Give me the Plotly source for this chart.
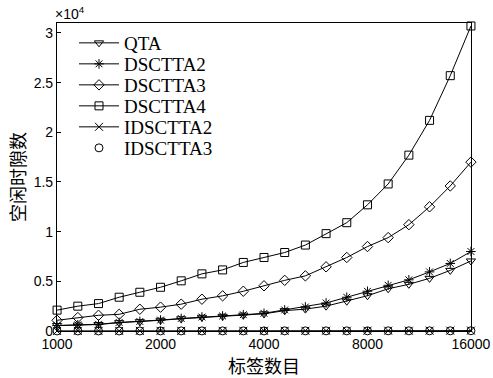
import plotly.graph_objects as go

tags = [1000, 1149, 1320, 1516, 1741, 2000, 2297, 2639, 3031, 3482, 4000,
        4595, 5278, 6063, 6964, 8000, 9190, 10556, 12126, 13929, 16000]

qta = [550, 600, 650, 840, 940, 1080, 1230, 1380, 1480, 1600, 1730,
       2050, 2200, 2500, 3000, 3550, 4250, 4700, 5300, 6100, 7050]
dsctta2 = [550, 620, 680, 860, 960, 1100, 1260, 1410, 1510, 1640, 1780,
           2120, 2420, 2820, 3400, 4000, 4600, 5150, 5950, 6800, 8000]
dsctta3 = [1080, 1350, 1580, 1680, 2190, 2400, 2700, 3200, 3540, 4000, 4550,
           5100, 5550, 6460, 7400, 8500, 9400, 10700, 12500, 14600, 17000]
dsctta4 = [2100, 2500, 2760, 3400, 3900, 4400, 5050, 5750, 6150, 6900, 7400,
           7900, 8650, 9800, 10900, 12700, 14800, 17700, 21200, 25700, 30700]
idsctta2 = [10, 10, 10, 10, 15, 15, 15, 15, 20, 20, 20,
            20, 25, 25, 25, 30, 30, 30, 35, 35, 40]
idsctta3 = [5, 5, 5, 5, 5, 10, 10, 10, 10, 10, 10,
            15, 15, 15, 15, 15, 20, 20, 20, 20, 25]

y_tickvals = [0, 5000, 10000, 15000, 20000, 25000, 30000]
y_ticktext = ["0", "0.5", "1", "1.5", "2", "2.5", "3"]
x_tickvals = [1000, 2000, 4000, 8000, 16000]
x_ticktext = ["1000", "2000", "4000", "8000", "16000"]

series = [
    ("QTA", qta, "triangle-down-open", "lines+markers"),
    ("DSCTTA2", dsctta2, "asterisk-open", "lines+markers"),
    ("DSCTTA3", dsctta3, "diamond-open", "lines+markers"),
    ("DSCTTA4", dsctta4, "square-open", "lines+markers"),
    ("IDSCTTA2", idsctta2, "x-thin-open", "lines+markers"),
    ("IDSCTTA3", idsctta3, "circle-open", "markers"),
]

W, H = 493, 378
L, R, T, B = 57, 22, 23, 47
plot_w = W - L - R
plot_h = H - T - B

fig = go.Figure()
legend_layouts = {}
row0, row_gap = 43, 21
for i, (name, ys, sym, mode) in enumerate(series):
    key = "legend" if i == 0 else f"legend{i + 1}"
    fig.add_trace(go.Scatter(
        x=tags, y=ys, name=name, mode=mode,
        line=dict(color="black", width=1),
        marker=dict(symbol=sym, size=8, color="black",
                    line=dict(color="black", width=1)),
        cliponaxis=False, legend=key,
    ))
    row_y = row0 + i * row_gap
    legend_layouts[key] = dict(
        x=(74 - L) / plot_w, y=(H - B - row_y) / plot_h,
        xanchor="left", yanchor="middle",
        bgcolor="rgba(0,0,0,0)", borderwidth=0,
        font=dict(family="Liberation Serif, Times New Roman", size=19,
                  color="black"),
        itemwidth=40,
    )

axis_common = dict(
    showline=True, linecolor="black", linewidth=1.2, mirror=True,
    ticks="inside", ticklen=4, tickcolor="black", showgrid=False,
    zeroline=False, automargin=False,
    tickfont=dict(family="Liberation Sans, Arial", size=14, color="black"),
)

fig.update_layout(
    width=W, height=H,
    margin=dict(l=L, r=R, t=T, b=B, autoexpand=False),
    plot_bgcolor="white", paper_bgcolor="white",
    showlegend=True,
    xaxis=dict(type="log", range=[2.9998, 4.2043], tickvals=x_tickvals,
               ticktext=x_ticktext, **axis_common),
    yaxis=dict(range=[0, 31000], tickvals=y_tickvals, ticktext=y_ticktext,
               **axis_common),
    annotations=[
        dict(text="×10<sup>4</sup>", x=0, y=1, xref="paper",
             yref="paper", xanchor="left", yanchor="bottom",
             showarrow=False, xshift=-4, yshift=-1,
             font=dict(family="Liberation Sans, Arial", size=14,
                       color="black")),
        dict(text="标签数目", x=0.5, y=(H - B - 365) / plot_h, xref="paper",
             yref="paper", xanchor="center", yanchor="middle",
             showarrow=False,
             font=dict(family="Noto Sans CJK SC", size=18, color="black")),
        dict(text="空闲时隙数", x=(17 - L) / plot_w, y=0.5, xref="paper",
             yref="paper", xanchor="center", yanchor="middle",
             showarrow=False, textangle=-90,
             font=dict(family="Noto Sans CJK SC", size=18, color="black")),
    ],
    **legend_layouts,
)

fig.write_html("out.html", config={"displayModeBar": False},
               post_script="document.body.style.margin='0';")
